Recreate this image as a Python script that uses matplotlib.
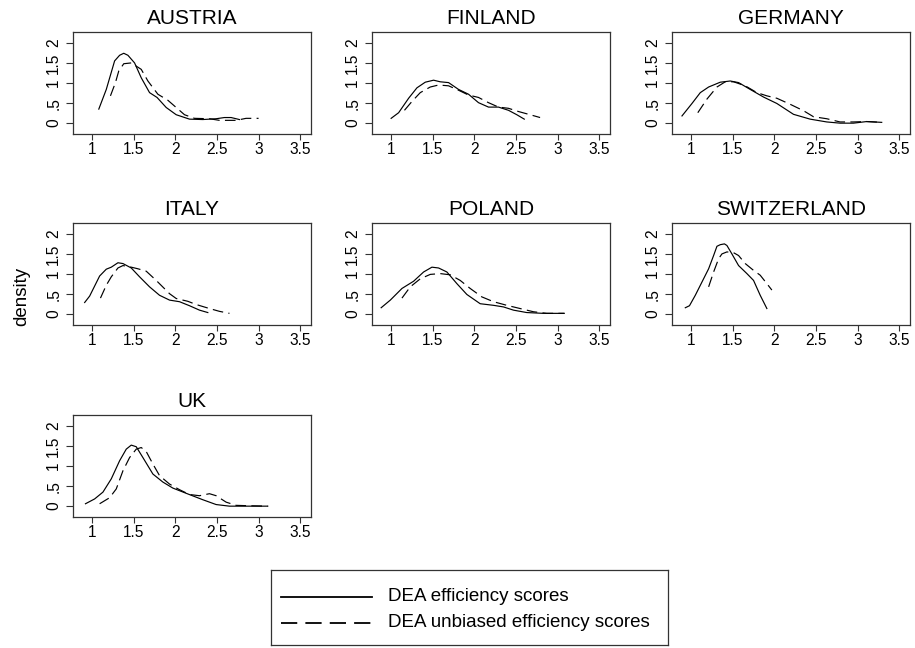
"""Kernel densities of DEA efficiency scores by country (Stata-style small multiples)."""

import matplotlib

matplotlib.use("Agg")
import matplotlib.pyplot as plt

plt.rcParams["font.family"] = ["Liberation Sans", "DejaVu Sans"]

# density curves: x = score, y = density
austria_dea_x = [1.08, 1.17, 1.27, 1.33, 1.38, 1.43, 1.51, 1.59, 1.69, 1.78, 1.89, 2.01, 2.17, 2.33, 2.49, 2.59, 2.67, 2.77]
austria_dea_y = [0.35, 0.84, 1.55, 1.69, 1.74, 1.69, 1.50, 1.13, 0.76, 0.64, 0.39, 0.21, 0.10, 0.09, 0.11, 0.14, 0.14, 0.09]
austria_unb_x = [1.22, 1.28, 1.32, 1.38, 1.47, 1.59, 1.67, 1.79, 1.91, 2.01, 2.11, 2.23, 2.41, 2.53, 2.73, 2.85, 3.00]
austria_unb_y = [0.68, 1.01, 1.30, 1.48, 1.50, 1.34, 1.05, 0.72, 0.57, 0.39, 0.21, 0.12, 0.11, 0.07, 0.07, 0.12, 0.12]

finland_dea_x = [1.00, 1.09, 1.21, 1.31, 1.41, 1.51, 1.59, 1.69, 1.81, 1.93, 2.05, 2.17, 2.29, 2.41, 2.51, 2.60]
finland_dea_y = [0.12, 0.26, 0.62, 0.88, 1.02, 1.07, 1.03, 1.01, 0.84, 0.72, 0.51, 0.40, 0.40, 0.32, 0.21, 0.10]
finland_unb_x = [1.16, 1.25, 1.35, 1.47, 1.57, 1.69, 1.81, 1.93, 2.05, 2.17, 2.29, 2.41, 2.53, 2.67, 2.79]
finland_unb_y = [0.32, 0.54, 0.76, 0.90, 0.95, 0.93, 0.82, 0.70, 0.64, 0.51, 0.40, 0.37, 0.29, 0.21, 0.14]

germany_dea_x = [0.89, 1.01, 1.11, 1.21, 1.35, 1.47, 1.57, 1.71, 1.87, 2.03, 2.23, 2.43, 2.63, 2.79, 2.95, 3.11, 3.29]
germany_dea_y = [0.18, 0.49, 0.76, 0.90, 1.02, 1.05, 1.01, 0.84, 0.65, 0.49, 0.22, 0.10, 0.03, 0.00, 0.00, 0.04, 0.02]
germany_unb_x = [1.08, 1.19, 1.31, 1.41, 1.51, 1.65, 1.79, 1.91, 2.03, 2.19, 2.35, 2.47, 2.63, 2.79, 2.95, 3.11, 3.29]
germany_unb_y = [0.26, 0.60, 0.90, 1.03, 1.03, 0.93, 0.76, 0.68, 0.62, 0.47, 0.31, 0.16, 0.11, 0.03, 0.03, 0.04, 0.02]

italy_dea_x = [0.91, 0.97, 1.09, 1.17, 1.23, 1.31, 1.37, 1.47, 1.57, 1.69, 1.81, 1.93, 2.05, 2.17, 2.29, 2.39]
italy_dea_y = [0.29, 0.45, 0.95, 1.12, 1.17, 1.28, 1.26, 1.15, 0.93, 0.68, 0.47, 0.35, 0.31, 0.21, 0.10, 0.04]
italy_unb_x = [1.10, 1.17, 1.23, 1.31, 1.37, 1.47, 1.55, 1.65, 1.77, 1.93, 2.01, 2.15, 2.25, 2.41, 2.53, 2.65]
italy_unb_y = [0.40, 0.72, 0.93, 1.15, 1.21, 1.17, 1.13, 1.07, 0.84, 0.51, 0.39, 0.32, 0.24, 0.14, 0.07, 0.02]

poland_dea_x = [0.88, 0.99, 1.13, 1.27, 1.39, 1.49, 1.57, 1.67, 1.79, 1.91, 2.07, 2.23, 2.35, 2.47, 2.63, 2.83, 3.08]
poland_dea_y = [0.16, 0.35, 0.64, 0.82, 1.05, 1.17, 1.15, 1.05, 0.76, 0.49, 0.26, 0.22, 0.18, 0.10, 0.04, 0.02, 0.02]
poland_unb_x = [1.13, 1.23, 1.35, 1.47, 1.59, 1.71, 1.83, 1.95, 2.09, 2.23, 2.39, 2.55, 2.71, 2.87, 3.08]
poland_unb_y = [0.40, 0.68, 0.88, 0.99, 1.01, 0.98, 0.84, 0.64, 0.43, 0.31, 0.22, 0.14, 0.06, 0.02, 0.02]

switz_dea_x = [0.93, 0.98, 1.05, 1.13, 1.21, 1.27, 1.31, 1.35, 1.40, 1.43, 1.49, 1.57, 1.67, 1.75, 1.83, 1.91]
switz_dea_y = [0.16, 0.21, 0.47, 0.80, 1.13, 1.46, 1.69, 1.73, 1.75, 1.71, 1.50, 1.21, 1.01, 0.84, 0.47, 0.14]
switz_unb_x = [1.21, 1.27, 1.33, 1.37, 1.43, 1.51, 1.57, 1.65, 1.75, 1.83, 1.91, 1.97]
switz_unb_y = [0.68, 1.05, 1.38, 1.50, 1.55, 1.53, 1.46, 1.26, 1.09, 0.97, 0.76, 0.60]

uk_dea_x = [0.92, 1.03, 1.13, 1.23, 1.33, 1.41, 1.47, 1.53, 1.61, 1.73, 1.85, 1.97, 2.13, 2.33, 2.49, 2.65, 2.89, 3.11]
uk_dea_y = [0.06, 0.18, 0.35, 0.68, 1.13, 1.42, 1.52, 1.48, 1.21, 0.80, 0.60, 0.45, 0.32, 0.16, 0.04, 0.00, 0.00, 0.00]
uk_unb_x = [1.09, 1.21, 1.29, 1.37, 1.45, 1.53, 1.59, 1.65, 1.73, 1.81, 1.93, 2.05, 2.17, 2.29, 2.41, 2.49, 2.61, 2.73, 2.89, 3.11]
uk_unb_y = [0.06, 0.21, 0.43, 0.88, 1.21, 1.42, 1.46, 1.36, 1.05, 0.76, 0.55, 0.41, 0.29, 0.26, 0.31, 0.26, 0.10, 0.02, 0.01, 0.00]

countries = ["AUSTRIA", "FINLAND", "GERMANY", "ITALY", "POLAND", "SWITZERLAND", "UK"]
dea_curves = [
    (austria_dea_x, austria_dea_y), (finland_dea_x, finland_dea_y), (germany_dea_x, germany_dea_y),
    (italy_dea_x, italy_dea_y), (poland_dea_x, poland_dea_y), (switz_dea_x, switz_dea_y), (uk_dea_x, uk_dea_y),
]
unb_curves = [
    (austria_unb_x, austria_unb_y), (finland_unb_x, finland_unb_y), (germany_unb_x, germany_unb_y),
    (italy_unb_x, italy_unb_y), (poland_unb_x, poland_unb_y), (switz_unb_x, switz_unb_y), (uk_unb_x, uk_unb_y),
]

x_ticks = [1, 1.5, 2, 2.5, 3, 3.5]
x_tick_labels = ["1", "1.5", "2", "2.5", "3", "3.5"]
y_ticks = [0, 0.5, 1, 1.5, 2]
y_tick_labels = ["0", ".5", "1", "1.5", "2"]
legend_labels = ["DEA efficiency scores", "DEA unbiased efficiency scores"]

W, H = 915, 648
DASH = (0, (9, 4.5))
BOX = "#333333"

fig = plt.figure(figsize=(W / 100, H / 100), dpi=100)

# panel boxes in pixels
col_left = [73, 372, 672]
row_top = [32, 223, 415]
box_w, box_h = 238, 102

for i, name in enumerate(countries):
    r, c = divmod(i, 3)
    ax = fig.add_axes([col_left[c] / W, 1 - (row_top[r] + box_h) / H, box_w / W, box_h / H])
    dx, dy = dea_curves[i]
    ux, uy = unb_curves[i]
    ax.plot(dx, dy, color="black", lw=0.85)
    ax.plot(ux, uy, color="black", lw=0.85, linestyle=DASH)
    ax.set_xlim(0.77, 3.63)
    ax.set_ylim(-0.27, 2.27)
    ax.set_xticks(x_ticks, x_tick_labels, fontsize=11.2)
    ax.set_yticks(y_ticks, y_tick_labels, fontsize=11.2, rotation=90, va="center")
    ax.tick_params(axis="x", length=4.5, width=0.8, color=BOX, pad=1.5)
    ax.tick_params(axis="y", length=5, width=0.8, color=BOX, pad=3.5)
    for sp in ax.spines.values():
        sp.set_color(BOX)
        sp.set_linewidth(0.9)
    ax.set_title(name, fontsize=15, pad=5.5)

fig.text(22 / W, 1 - 296 / H, "density", rotation=90, ha="center", va="center", fontsize=13.5)

# legend box drawn as its own axes
lx0, lx1, ly0, ly1 = 271, 668, 570, 645
lax = fig.add_axes([lx0 / W, 1 - ly1 / H, (lx1 - lx0) / W, (ly1 - ly0) / H])
lax.set_xlim(lx0, lx1)
lax.set_ylim(ly1, ly0)
lax.set_xticks([])
lax.set_yticks([])
for sp in lax.spines.values():
    sp.set_color(BOX)
    sp.set_linewidth(0.9)
row_y = [597, 623]
styles = ["-", DASH]
for yy, lab, ls in zip(row_y, legend_labels, styles):
    lax.plot([281, 372], [yy, yy], color="black", lw=1.3, linestyle=ls)
    lax.text(388, yy, lab, fontsize=13.5, va="center", ha="left")

fig.savefig("out.png", dpi=100)
plt.close()
